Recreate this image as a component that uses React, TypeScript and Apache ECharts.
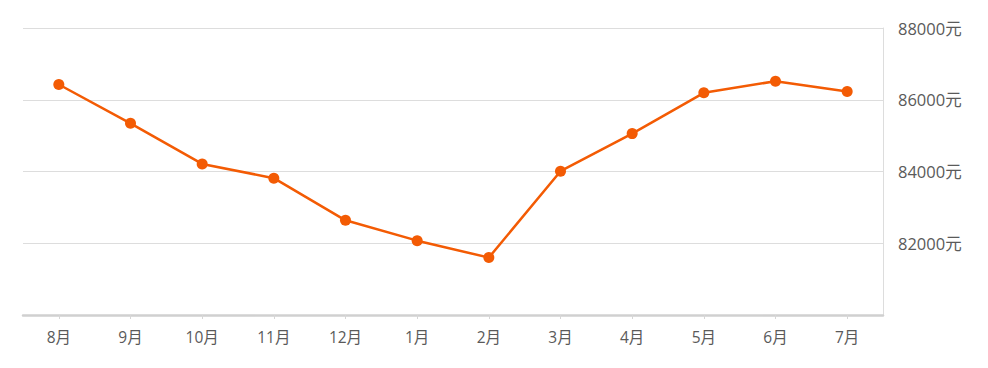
import React, { useEffect, useRef } from "react";
import * as echarts from "echarts";

const categories = ["8月", "9月", "10月", "11月", "12月", "1月", "2月", "3月", "4月", "5月", "6月", "7月"];
const prices = [86425, 85342, 84211, 83814, 82639, 82072, 81600, 84008, 85056, 86194, 86517, 86231];
const yMin = 80000;
const yMax = 88000;
const yInterval = 2000;

const FONT = "'Open Sans', 'Noto Sans CJK SC', sans-serif";

export default function App() {
  const ref = useRef<HTMLDivElement>(null);
  useEffect(() => {
    if (!ref.current) return;
    const chart = echarts.init(ref.current, undefined, { renderer: "svg" });
    chart.setOption({
      animation: false,
      backgroundColor: "#ffffff",
      grid: { left: 23, right: 105, top: 28, bottom: 53, containLabel: false },
      xAxis: {
        type: "category",
        data: categories,
        boundaryGap: true,
        axisLine: { show: true, lineStyle: { color: "#d0d0d0", width: 2.5 } },
        axisTick: { show: true, alignWithLabel: true, length: 4, lineStyle: { color: "#d6d6d6" } },
        axisLabel: {
          color: "#5a5a5a",
          fontSize: 15.5,
          fontFamily: FONT,
          margin: 14,
        },
        splitLine: { show: false },
      },
      yAxis: {
        type: "value",
        position: "right",
        min: yMin,
        max: yMax,
        interval: yInterval,
        axisLine: { show: true, lineStyle: { color: "#dddddd", width: 1 } },
        axisTick: { show: false },
        axisLabel: {
          color: "#5a5a5a",
          fontSize: 16.5,
          fontFamily: FONT,
          margin: 15,
          formatter: (v: number) => (v === yMin ? "" : `${v}元`),
        },
        splitLine: { show: true, lineStyle: { color: "#dddddd", width: 1 } },
      },
      series: [
        {
          type: "line",
          data: prices,
          symbol: "circle",
          symbolSize: 11,
          lineStyle: { color: "#F35B04", width: 2.5 },
          itemStyle: { color: "#F35B04" },
        },
      ],
    });
    return () => chart.dispose();
  }, []);
  return (
    <div
      ref={ref}
      style={{ position: "fixed", left: 0, top: 0, width: 988, height: 368, background: "#fff" }}
    />
  );
}
